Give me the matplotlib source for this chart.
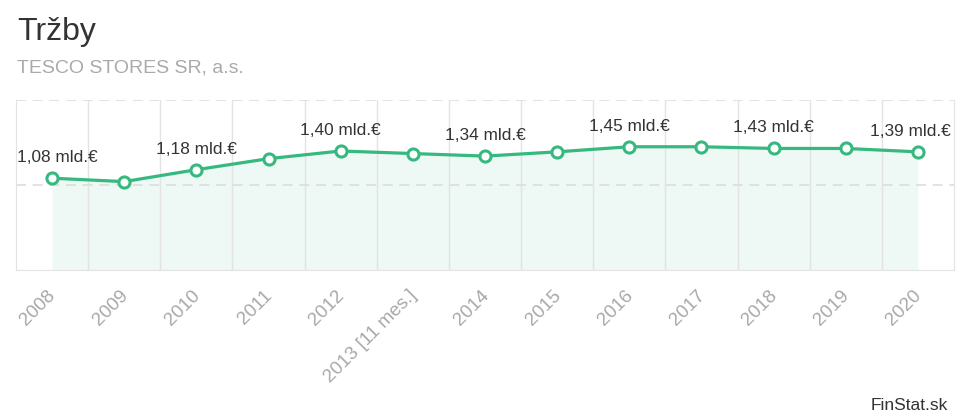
import matplotlib
matplotlib.use("Agg")
import matplotlib.pyplot as plt
import matplotlib.transforms as mtransforms
import numpy as np

# data (billions of EUR)
years = ["2008", "2009", "2010", "2011", "2012", "2013 [11 mes.]", "2014",
         "2015", "2016", "2017", "2018", "2019", "2020"]
revenue = [1.08, 1.04, 1.18, 1.31, 1.40, 1.37, 1.34, 1.39, 1.45, 1.45, 1.43, 1.43, 1.39]
labelled = [0, 2, 4, 6, 8, 10, 12]

green = "#36b97f"
fill = "#eef8f4"
grid_col = "#e3e3e3"

plt.rcParams["font.family"] = ["Liberation Sans", "DejaVu Sans"]


def fmt(v):
    return f"{v:.2f}".replace(".", ",") + " mld.€"


def main():
    fig = plt.figure(figsize=(9.69, 4.2), dpi=100)
    ax = fig.add_axes([16 / 969, 150 / 420, 938 / 969, 170 / 420])

    x = np.arange(len(years))
    ax.fill_between(x, revenue, 0, color=fill, zorder=1, linewidth=0)
    ax.plot(x, revenue, color=green, linewidth=2.3, marker="o", markersize=8,
            markerfacecolor="white", markeredgecolor=green, markeredgewidth=2.2,
            zorder=4)

    for i in labelled:
        dx = 0
        if i == 0:
            dx = 5
        elif i == len(years) - 1:
            dx = -8
        ax.annotate(fmt(revenue[i]), xy=(x[i], revenue[i]), xytext=(dx, 16),
                    textcoords="offset pixels", ha="center", va="baseline",
                    fontsize=12.4, color="#333333", zorder=5)

    ax.set_xlim(-0.5, len(years) - 0.5)
    ax.set_ylim(0, 2)

    # vertical separators between categories, dashed value grid
    ax.set_xticks(x)
    ax.set_xticks(np.arange(0.5, len(years) - 1, 1.0), minor=True)
    ax.set_yticks([1, 2])
    ax.grid(True, which="minor", axis="x", color=grid_col, linewidth=1, zorder=0)
    ax.grid(True, which="major", axis="y", color="#dddddd", linewidth=1.2,
            linestyle=(0, (6, 4)), zorder=0)
    ax.tick_params(axis="both", which="both", length=0)
    ax.set_yticklabels([])
    ax.set_xticklabels(years, rotation=45, ha="right", va="top",
                       rotation_mode="anchor", fontsize=13.6, color="#a8a8a8")
    ax.tick_params(axis="x", pad=7)
    shift = mtransforms.ScaledTranslation(-5 / 100, -7 / 100, fig.dpi_scale_trans)
    for lab in ax.get_xticklabels():
        lab.set_transform(lab.get_transform() + shift)

    for side in ["left", "right", "bottom"]:
        ax.spines[side].set_color(grid_col)
    ax.spines["top"].set_visible(False)

    fig.text(17 / 969, 1 - 32 / 420, "Tržby", fontsize=23, color="#333333",
             ha="left", va="center")
    fig.text(17 / 969, 1 - 68 / 420, "TESCO STORES SR, a.s.", fontsize=14,
             color="#aaaaaa", ha="left", va="center")
    fig.text(948 / 969, 1 - 405 / 420, "FinStat.sk", fontsize=12.5,
             color="#333333", ha="right", va="center")

    fig.savefig("out.png", dpi=100)
    plt.close(fig)


if __name__ == "__main__":
    main()
